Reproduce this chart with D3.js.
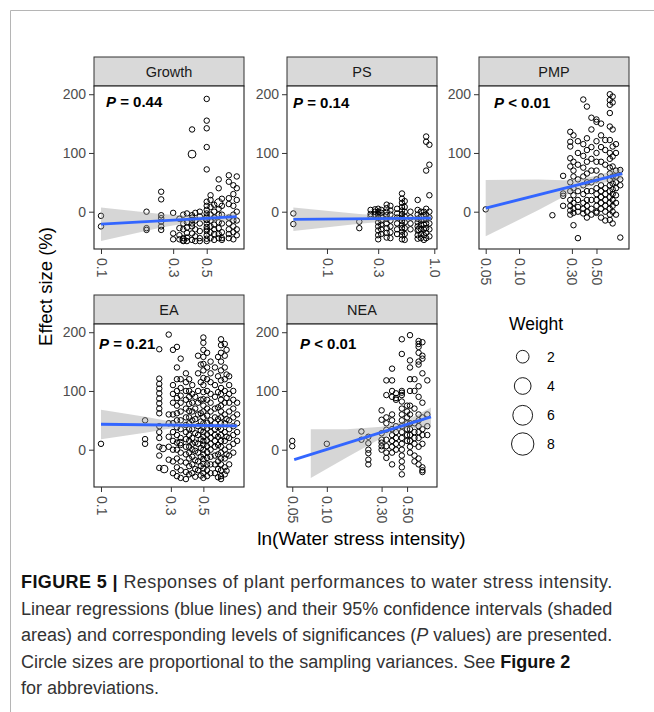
<!DOCTYPE html>
<html>
<head>
<meta charset="utf-8">
<script src="https://cdn.jsdelivr.net/npm/d3@7"></script>
<style>
  body { margin: 0; background: #fff; }
  svg { display: block; }
</style>
</head>
<body>
<div id="chart"></div>
<script>
// ---- data ----
// columns: [x, y1, y2, ...]  (x = water stress intensity, y = effect size %)
const growthCols = [
  [0.10, -7, -25],
  [0.20, 0, -28, -31],
  [0.25, 34, 21, -6, -11, -17, -25, -31],
  [0.30, -2, -37, -47],
  [0.33, -12, -28, -40, -47],
  [0.35, -5, -20, -30, -45, -50],
  [0.37, -3, -18, -27, -36, -44, -50],
  [0.40, 140, -6, -14, -25, -37, -48, -20, -10],
  [0.42, -2, -15, -30, -42, -50],
  [0.45, 0, -8, -20, -33, -45, -50],
  [0.50, 192, 155, 142, 110, 72, 17, 10, 3, -3, -8, -14, -20, -26, -33, -40, -46, -50, -30],
  [0.53, 28, 20, 8, -5, -15, -25, -35, -45],
  [0.56, 12, 0, -10, -22, -30, -38, -48],
  [0.60, 55, 40, 5, -5, -18, -28, -38, -45],
  [0.63, 22, 10, -5, -20, -35, -45, -48],
  [0.70, 62, 51, 23, 13, -10, -20, -30, -38, -45],
  [0.75, 45, 30, 10, -5, -15, -25, -35, -47],
  [0.79, 60, 40, 20, 0, -15, -30, -40]
];
const growthBig = [[0.40, 98, 0.5], [0.60, 15, 0.6], [0.50, -12, 0.35], [0.35, -48, 0.3]];
const growthFit = [[0.10, -21], [0.79, -8.5]];
const growthBand = [[0.10, -50, 7], [0.25, -27, -4], [0.45, -16, -8], [0.79, -15, -2]];
const growthTicks = [0.1, 0.3, 0.5];

const psCols = [
  [0.0486, -3, -21],
  [0.20, -17, -28],
  [0.255, 3, -4, -8],
  [0.28, 4, 0, -5],
  [0.30, 5, 0, -5, -10, -18, -25, -32, -40, -47],
  [0.32, 3, -2, -8, -15, -22, -30, -38],
  [0.36, 12, 6, 0, -6, -12, -20, -28, -36, -44],
  [0.39, 10, 2, -5, -15, -25, -35, -45],
  [0.45, 5, -3, -10, -20, -30, -38],
  [0.50, 31, 22, 15, 8, 2, -4, -10, -16, -22, -28, -34, -40, -47],
  [0.53, 18, 8, 0, -8, -18, -28, -38, -48],
  [0.60, 0, -10, -20, -30],
  [0.70, 20, 3, -5, -12, -18, -25, -32, -40, -46],
  [0.75, 0, -8, -15, -22, -30, -38, -45],
  [0.80, 0, -6, -14, -22, -30, -40, -48],
  [0.84, 128, 119, 70, 5, -5, -12, -20, -28, -36, -45],
  [0.90, 114, 80, 28, 0, -10, -20, -30, -42]
];
const psBig = [[0.72, -30, 0.3]];
const psFit = [[0.0486, -13], [0.93, -11]];
const psBand = [[0.0486, -33, 7], [0.20, -20.5, -4], [0.50, -14, -9], [0.93, -17, -5]];
const psTicks = [0.1, 0.3, 1.0];

const pmpCols = [
  [0.05, 4],
  [0.20, -6],
  [0.25, 61, 31, 27, 10],
  [0.29, 136, 119, 111, 91, 77, 50, 35, 20, 10, 2, -5],
  [0.31, 130, 85, 70, 60, 40, 28, 15, 5, -2, -23],
  [0.34, 120, 100, 80, 55, 35, 20, 8, 0, -45],
  [0.38, 191, 115, 95, 75, 60, 45, 30, 15, 5, -3],
  [0.41, 179, 125, 105, 85, 65, 50, 35, 20, 10, 0, -10],
  [0.45, 160, 140, 110, 90, 70, 50, 35, 20, 5, -5],
  [0.50, 157, 153, 120, 100, 85, 70, 55, 40, 30, 20, 10, 0, -2],
  [0.55, 150, 130, 110, 85, 60, 45, 35, 25, 15, 5, -10],
  [0.60, 122, 105, 80, 40, 30, 20, 10, 0, -15],
  [0.66, 200, 190, 182, 168, 145, 122, 100, 90, 75, 65, 54, 45, 35, 25, 15, 5, -5, -14],
  [0.70, 196, 186, 140, 111, 94, 77, 60, 48, 38, 30, 20, 10, 0, -20],
  [0.75, 115, 100, 70, 60, 50, 40, 28, 15, -5],
  [0.82, 71, 55, 45, -44]
];
const pmpBig = [];
const pmpFit = [[0.05, 6], [0.855, 65]];
const pmpBand = [[0.05, -42, 54], [0.15, 3, 55], [0.30, 33, 53], [0.50, 47, 61], [0.855, 55, 75]];
const pmpTicks = [0.05, 0.1, 0.3, 0.5];

const eaCols = [
  [0.10, 10],
  [0.20, 50, 18, 10],
  [0.25, 171, 121, 112, 104, 96, 87, 79, 70, 62, 40, 30, 20, 5, -10, -31],
  [0.29, 196, 60, 45, 22, 5, -17],
  [0.31, 170, 110, 95, 80, 60, 45, 30, 15, 0, -20, -40],
  [0.33, 175, 140, 120, 100, 88, 75, 62, 50, 38, 25, 12, 0, -15, -30, -45],
  [0.35, 155, 120, 105, 92, 80, 65, 50, 35, 20, 8, -5, -20, -35, -48],
  [0.38, 130, 115, 100, 85, 70, 55, 42, 30, 18, 5, -8, -22, -38, -50],
  [0.40, 120, 100, 90, 78, 66, 55, 45, 35, 25, 15, 5, -5, -15, -28, -42],
  [0.42, 110, 95, 80, 65, 50, 35, 20, 10, 0, -12, -25, -40],
  [0.44, 90, 70, 52, 28, 12, -2, -18, -33, -46],
  [0.46, 160, 130, 100, 80, 60, 40, 25, 10, -5, -20, -35],
  [0.48, 145, 115, 85, 62, 48, 33, 18, 3, -12, -28, -44],
  [0.50, 191, 182, 170, 158, 146, 135, 122, 110, 98, 86, 75, 65, 55, 45, 38, 30, 22, 15, 8, 0, -8, -16, -24, -32, -40, -48],
  [0.53, 165, 140, 120, 100, 85, 70, 58, 46, 36, 26, 16, 6, -4, -14, -25, -35, -45],
  [0.56, 150, 130, 115, 95, 80, 65, 50, 40, 30, 20, 10, 0, -12, -25, -40],
  [0.60, 140, 110, 90, 70, 55, 45, 35, 25, 15, 5, -10, -25, -40],
  [0.63, 158, 125, 98, 72, 52, 38, 22, 8, -8, -20, -33, -47],
  [0.66, 188, 178, 165, 150, 135, 118, 105, 95, 85, 75, 65, 55, 45, 35, 25, 15, 5, -5, -15, -25, -35, -45, -50],
  [0.70, 180, 160, 140, 120, 100, 80, 60, 45, 30, 15, 0, -15, -30, -42],
  [0.72, 170, 128, 88, 52, 22, -8, -36],
  [0.75, 125, 110, 95, 80, 65, 50, 35, 20, 5, -10, -25],
  [0.80, 100, 85, 70, 55, 40, 25, 10, -5],
  [0.85, 80, 60, 45, 30, 15]
];
const eaBig = [[0.27, -33, 0.45], [0.265, 2, 0.3], [0.347, 12, 0.3]];
const eaFit = [[0.10, 43.3], [0.85, 40.5]];
const eaBand = [[0.10, 18, 68], [0.20, 29, 56], [0.30, 36, 48], [0.50, 38, 44], [0.85, 36, 45]];
const eaTicks = [0.1, 0.3, 0.5];

const neaCols = [
  [0.05, 15, 6],
  [0.10, 10],
  [0.20, 31, 17],
  [0.23, 22, 11, 0, -6, -17, -25],
  [0.30, 67, 51, 28, 17, 12, 6, 0],
  [0.33, 118, 93, 55, 45, 34, 17, 6, -5, -14],
  [0.37, 138, 118, 100, 90, 60, 50, 35, 25, 15, 5, -5, -25],
  [0.40, 96, 88, 85, 40, 30, 20, 10, 0],
  [0.45, 188, 163, 100, 97, 93, 82, 70, 60, 50, 40, 30, 20, 10, 0, -10, -20, -30, -42],
  [0.50, 75, 65, 55, 45, 35, 25, 15],
  [0.53, 195, 152, 140, 120, 100, 75, 60, 45, 35, 25, 15, 5, -5],
  [0.58, 120, 100, 70, 45, 30, 20, 10, -10, -20],
  [0.63, 185, 180, 175, 165, 150, 145, 108, 90, 60, 50, 40, 30, 20, 5, -15, -25],
  [0.68, 183, 160, 155, 130, 80, 55, 35, 25, 10, -30, -35, -38],
  [0.75, 118, 60, 40, 25]
];
const neaBig = [];
const neaFit = [[0.052, -17], [0.807, 56]];
const neaBand = [[0.0725, -48, 35], [0.15, -13, 35], [0.30, 20, 39], [0.50, 36, 50], [0.807, 38, 72]];
const neaTicks = [0.05, 0.1, 0.3, 0.5];

const panelNames = ["Growth", "PS", "PMP", "EA", "NEA"];
const pOps = ["=", "=", "<", "=", "<"];
const pValues = ["0.44", "0.14", "0.01", "0.21", "0.01"];
const yTicks = [0, 100, 200];
const legendWeights = [2, 4, 6, 8];
const baseWeight = 0.13;

const captionLines = [
  [["FIGURE 5 | ", "b"], ["Responses of plant performances to water stress intensity.", ""]],
  [["Linear regressions (blue lines) and their 95% confidence intervals (shaded", ""]],
  [["areas) and corresponding levels of significances (", ""], ["P", "i"], [" values) are presented.", ""]],
  [["Circle sizes are proportional to the sampling variances. See ", ""], ["Figure 2", "b"]],
  [["for abbreviations.", ""]]
];

// ---- layout ----
const W = 654, H = 712;
const font = "'Liberation Sans', Arial, Helvetica, sans-serif";
const colX = [94, 287, 479], rowY = [86, 324];
const pw = 150, ph = 163, stripH = 29;

const svg = d3.select("#chart").append("svg")
  .attr("width", W).attr("height", H)
  .style("font-family", font);

// card frame
svg.append("path")
  .attr("d", `M10.5,${H}V10.5H${W}`)
  .attr("fill", "none").attr("stroke", "#b5b5b5").attr("stroke-width", 1);

const panels = [
  {col: 0, row: 0, dom: [0.0899, 0.882], ticks: growthTicks, fmt: ".1f", cols: growthCols, big: growthBig, fit: growthFit, band: growthBand, px: 12, py: 21},
  {col: 1, row: 0, dom: [0.0424, 1.06], ticks: psTicks, fmt: ".1f", cols: psCols, big: psBig, fit: psFit, band: psBand, px: 6, py: 22},
  {col: 2, row: 0, dom: [0.0435, 0.983], ticks: pmpTicks, fmt: ".2f", cols: pmpCols, big: pmpBig, fit: pmpFit, band: pmpBand, px: 15, py: 22},
  {col: 0, row: 1, dom: [0.0896, 0.947], ticks: eaTicks, fmt: ".1f", cols: eaCols, big: eaBig, fit: eaFit, band: eaBand, px: 5, py: 25},
  {col: 1, row: 1, dom: [0.045, 0.911], ticks: neaTicks, fmt: ".2f", cols: neaCols, big: neaBig, fit: neaFit, band: neaBand, px: 13, py: 25}
];

const y = d3.scaleLinear().domain([-63.5, 214]).range([ph, 0]);
const r = d3.scaleSqrt().domain([0, 8]).range([1.5, 11.2]);

panels.forEach((p, i) => {
  const x = d3.scaleLog().domain(p.dom).range([0, pw]);
  const g = svg.append("g")
    .attr("transform", `translate(${colX[p.col]}, ${rowY[p.row]})`);

  // strip
  g.append("rect")
    .attr("x", 0).attr("y", -stripH).attr("width", pw).attr("height", stripH)
    .attr("fill", "#d9d9d9").attr("stroke", "#333").attr("stroke-width", 1);
  g.append("text")
    .attr("x", pw / 2).attr("y", -stripH / 2).attr("dy", "0.36em")
    .attr("text-anchor", "middle").attr("font-size", 14.5).attr("fill", "#1a1a1a")
    .text(panelNames[i]);

  g.append("rect").attr("width", pw).attr("height", ph).attr("fill", "#fff");

  const clipId = "clip" + i;
  g.append("clipPath").attr("id", clipId)
    .append("rect").attr("width", pw).attr("height", ph);
  const plot = g.append("g").attr("clip-path", `url(#${clipId})`);

  const pts = p.cols.flatMap(c => c.slice(1).map(v => [c[0], v, baseWeight]))
    .concat(p.big);

  plot.selectAll("circle.pt")
    .data(pts)
    .enter().append("circle")
    .attr("class", "pt")
    .attr("cx", d => x(d[0]))
    .attr("cy", d => y(d[1]))
    .attr("r", d => r(d[2]))
    .attr("fill", "none")
    .attr("stroke", "#000")
    .attr("stroke-width", 1);

  const area = d3.area()
    .x(d => x(d[0]))
    .y0(d => y(d[1]))
    .y1(d => y(d[2]));
  plot.append("path")
    .datum(p.band)
    .attr("d", area)
    .attr("fill", "#999999").attr("fill-opacity", 0.4);

  const line = d3.line().x(d => x(d[0])).y(d => y(d[1]));
  plot.append("path")
    .datum(p.fit)
    .attr("d", line)
    .attr("fill", "none").attr("stroke", "#3366FF").attr("stroke-width", 2.8);

  // P value label
  const t = g.append("text")
    .attr("x", p.px).attr("y", p.py)
    .attr("font-size", 15).attr("font-weight", "bold").attr("fill", "#000");
  t.append("tspan").attr("font-style", "italic").text("P");
  t.append("tspan").text(` ${pOps[i]} ${pValues[i]}`);

  // border
  g.append("rect").attr("width", pw).attr("height", ph)
    .attr("fill", "none").attr("stroke", "#222").attr("stroke-width", 1.1);

  // axes
  const gy = g.append("g")
    .call(d3.axisLeft(y).tickValues(yTicks).tickSize(5).tickPadding(3));
  gy.select(".domain").remove();
  gy.selectAll("line").attr("stroke", "#333");
  gy.selectAll("text").attr("font-size", 14).attr("fill", "#4d4d4d").attr("font-family", font);

  const gx = g.append("g")
    .attr("transform", `translate(0, ${ph})`)
    .call(d3.axisBottom(x).tickValues(p.ticks).tickFormat(d3.format(p.fmt)).tickSize(5));
  gx.select(".domain").remove();
  gx.selectAll("line").attr("stroke", "#333");
  gx.selectAll("text")
    .attr("transform", "rotate(90)")
    .attr("x", 9).attr("y", 0).attr("dy", "0.35em")
    .style("text-anchor", "start")
    .attr("font-size", 14).attr("fill", "#4d4d4d").attr("font-family", font);
});

// axis titles
svg.append("text")
  .attr("transform", `translate(52, ${rowY[0] + (rowY[1] + ph - rowY[0]) / 2}) rotate(-90)`)
  .attr("text-anchor", "middle").attr("font-size", 18.5).attr("fill", "#000")
  .text("Effect size (%)");

svg.append("text")
  .attr("x", (colX[0] + colX[2] + pw) / 2).attr("y", 545)
  .attr("text-anchor", "middle").attr("font-size", 19).attr("fill", "#000")
  .text("ln(Water stress intensity)");

// legend
const lg = svg.append("g");
lg.append("text").attr("x", 509).attr("y", 330)
  .attr("font-size", 17.5).attr("fill", "#000").text("Weight");
const legendY = [356.7, 386, 415.3, 444];
legendWeights.forEach((w, k) => {
  lg.append("circle").attr("cx", 522.7).attr("cy", legendY[k]).attr("r", r(w))
    .attr("fill", "none").attr("stroke", "#000").attr("stroke-width", 0.9);
  lg.append("text").attr("x", 547).attr("y", legendY[k]).attr("dy", "0.36em")
    .attr("font-size", 14).attr("fill", "#000").text(w);
});

// caption
const cap = svg.append("g").attr("font-size", 18).attr("fill", "#333");
captionLines.forEach((parts, k) => {
  const t = cap.append("text").attr("x", 21).attr("y", 588 + k * 26.5);
  if (k === 0) t.attr("letter-spacing", 0.4);
  parts.forEach(([s, st]) => {
    const ts = t.append("tspan").text(s);
    if (st === "b") ts.attr("font-weight", "bold").attr("fill", "#111");
    if (st === "i") ts.attr("font-style", "italic");
  });
});
</script>
</body>
</html>
